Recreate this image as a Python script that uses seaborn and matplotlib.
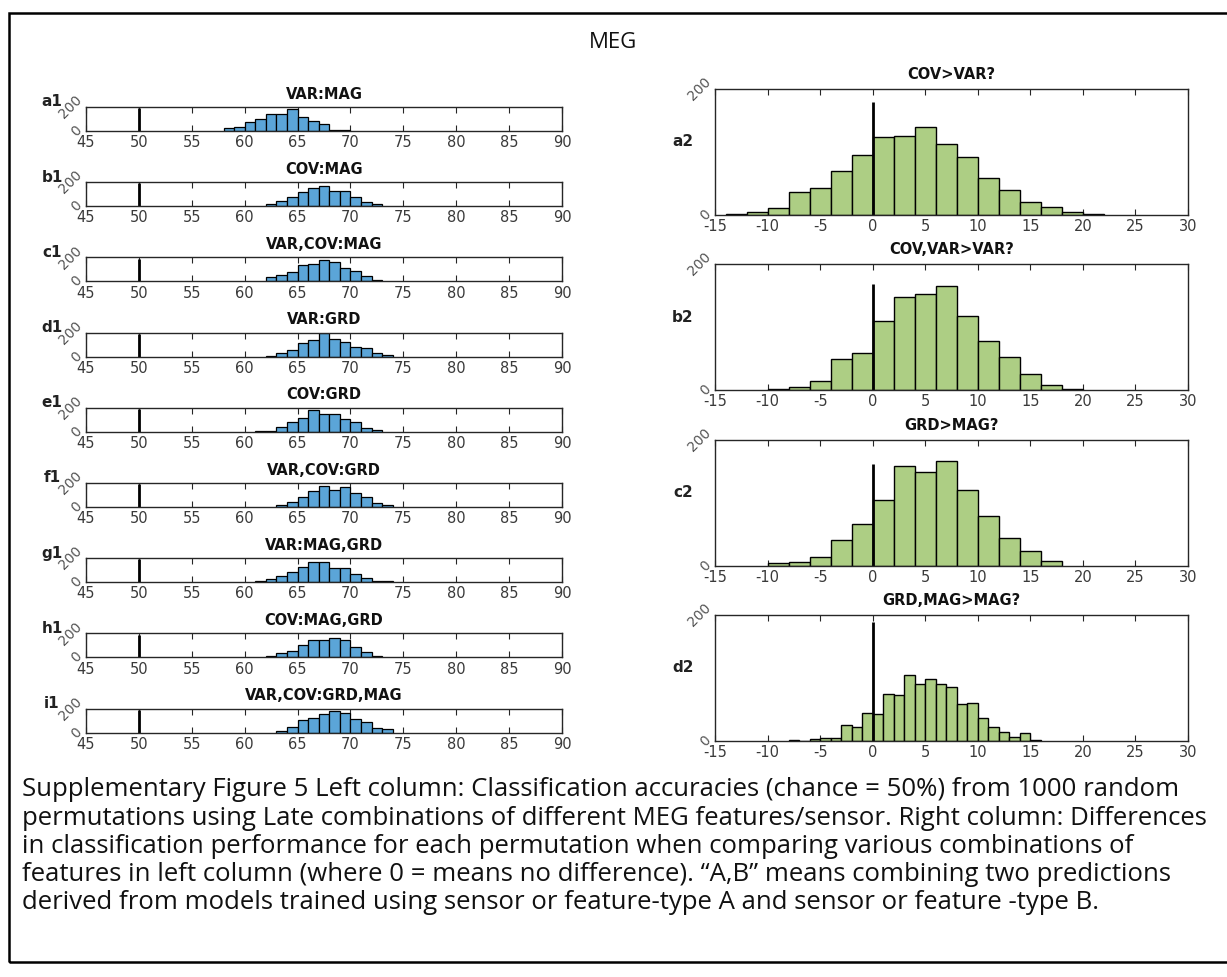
import numpy as np
import pandas as pd
import matplotlib
matplotlib.use("Agg")
import matplotlib.pyplot as plt
import seaborn as sns
from matplotlib.patches import Rectangle

# ---------------- data ----------------
left_titles = ["VAR:MAG", "COV:MAG", "VAR,COV:MAG", "VAR:GRD", "COV:GRD",
               "VAR,COV:GRD", "VAR:MAG,GRD", "COV:MAG,GRD", "VAR,COV:GRD,MAG"]
left_labels = ["a1", "b1", "c1", "d1", "e1", "f1", "g1", "h1", "i1"]
left_bin_start = [58, 62, 62, 62, 61, 63, 61, 62, 63]
a1_counts = [23, 34, 73, 96, 144, 141, 183, 118, 82, 59, 8, 8]
b1_counts = [17, 42, 76, 118, 149, 172, 127, 127, 73, 37, 20]
c1_counts = [37, 51, 79, 138, 141, 175, 158, 110, 85, 45, 14]
d1_counts = [8, 31, 56, 110, 138, 195, 150, 118, 82, 68, 34, 11]
e1_counts = [8, 8, 42, 82, 116, 180, 149, 149, 104, 82, 31, 11]
f1_counts = [14, 42, 87, 132, 175, 144, 163, 113, 87, 37, 14]
g1_counts = [8, 23, 51, 85, 127, 172, 172, 116, 116, 65, 34, 8, 8]
h1_counts = [8, 39, 56, 107, 144, 144, 163, 147, 85, 45, 8]
i1_counts = [11, 48, 101, 124, 152, 178, 163, 113, 85, 39, 31]
left_counts = [a1_counts, b1_counts, c1_counts, d1_counts, e1_counts,
               f1_counts, g1_counts, h1_counts, i1_counts]
left_chance = 50
left_line_top = [190, 190, 190, 190, 190, 190, 190, 190, 190]
left_xticks = [45, 50, 55, 60, 65, 70, 75, 80, 85, 90]

right_titles = ["COV>VAR?", "COV,VAR>VAR?", "GRD>MAG?", "GRD,MAG>MAG?"]
right_labels = ["a2", "b2", "c2", "d2"]
right_bin_start = [-14, -10, -10, -8]
right_bin_width = [2, 2, 2, 1]
a2_counts = [2, 4, 11, 37, 43, 70, 96, 124, 125, 140, 113, 92, 58, 39, 21, 13, 4, 2]
b2_counts = [2, 4, 14, 49, 59, 110, 147, 153, 165, 118, 78, 53, 25, 8, 2]
c2_counts = [4, 6, 14, 41, 67, 104, 159, 149, 167, 120, 79, 45, 24, 8]
d2_counts = [2, 0, 3, 5, 5, 26, 23, 44, 43, 75, 73, 105, 91, 98, 90, 86,
             59, 61, 37, 22, 14, 6, 12, 2]
right_counts = [a2_counts, b2_counts, c2_counts, d2_counts]
right_line_top = [180, 168, 162, 189]
right_xticks = [-15, -10, -5, 0, 5, 10, 15, 20, 25, 30]

caption_lines = [
    "Supplementary Figure 5 Left column: Classification accuracies (chance = 50%) from 1000 random",
    "permutations using Late combinations of different MEG features/sensor. Right column: Differences",
    "in classification performance for each permutation when comparing various combinations of",
    "features in left column (where 0 = means no difference). \u201cA,B\u201d means combining two predictions",
    "derived from models trained using sensor or feature-type A and sensor or feature -type B.",
]

# ---------------- style ----------------
sns.set_theme(style="white")
plt.rcParams["font.family"] = ["DejaVu Sans"]
plt.rcParams["axes.edgecolor"] = "#262626"
plt.rcParams["axes.linewidth"] = 1.0

W, H = 1227, 977
fig = plt.figure(figsize=(W / 100, H / 100), dpi=100)
fig.patch.set_facecolor("white")

BLUE = "#5BA5D8"
GREEN = "#ADCE84"
TICKC = "#3a3a3a"


def px_axes(x0, y0, w, h):
    return fig.add_axes([x0 / W, 1 - (y0 + h) / H, w / W, h / H])


def style_axes(ax, xlim, xticks, ylim=(0, 200)):
    ax.set_xlim(*xlim)
    ax.set_ylim(*ylim)
    ax.set_xticks(xticks)
    ax.set_yticks([0, 200])
    ax.set_xticklabels([str(t) for t in xticks], color=TICKC, fontsize=10.5)
    ax.set_yticklabels(["0", "200"], color="#555555", fontsize=10,
                       rotation=45, ha="right", va="center")
    ax.tick_params(axis="x", direction="in", length=4, width=0.8, top=True,
                   bottom=True, pad=3, colors="#262626", labelcolor=TICKC)
    ax.tick_params(axis="y", direction="in", length=0, pad=1, labelcolor="#555555")
    ax.set_xlabel("")
    ax.set_ylabel("")
    for s in ax.spines.values():
        s.set_visible(True)
        s.set_color("#262626")
        s.set_linewidth(1.0)


# left column
for i in range(9):
    top = 107 + 75.2 * i
    ax = px_axes(86, top, 476, 24)
    counts = [float(c) for c in left_counts[i]]
    start = left_bin_start[i]
    edges = [float(start + k) for k in range(len(counts) + 1)]
    centers = [e + 0.5 for e in edges[:-1]]
    df = pd.DataFrame({"x": centers, "w": counts})
    sns.histplot(data=df, x="x", weights="w", bins=edges, ax=ax,
                 color=BLUE, alpha=1.0, edgecolor="black", linewidth=0.9)
    ax.vlines(left_chance, 0, left_line_top[i], color="black", lw=2)
    style_axes(ax, (45, 90), left_xticks)
    ax.set_title(left_titles[i], fontsize=10.5, fontweight="bold", pad=6, color="#111111")
    fig.text(52 / W, 1 - 102 / H - 75.2 * i / H, left_labels[i], fontsize=11,
             fontweight="bold", ha="center", va="center", color="#222222")

# right column
right_tops = [89, 264, 440, 615]
for i in range(4):
    ax = px_axes(715, right_tops[i], 473, 126)
    counts = [float(c) for c in right_counts[i]]
    bw = right_bin_width[i]
    start = right_bin_start[i]
    edges = [float(start + bw * k) for k in range(len(counts) + 1)]
    centers = [e + bw / 2 for e in edges[:-1]]
    df = pd.DataFrame({"x": centers, "w": counts})
    sns.histplot(data=df, x="x", weights="w", bins=edges, ax=ax,
                 color=GREEN, alpha=1.0, edgecolor="black", linewidth=1.0)
    ax.vlines(0, 0, right_line_top[i], color="black", lw=2)
    style_axes(ax, (-15, 30), right_xticks)
    ax.set_title(right_titles[i], fontsize=10.5, fontweight="bold", pad=7, color="#111111")
    fig.text(683 / W, 1 - (right_tops[i] + 53) / H, right_labels[i], fontsize=11,
             fontweight="bold", ha="center", va="center", color="#222222")

# overall title
fig.text(613 / W, 1 - 42 / H, "MEG", fontsize=16, ha="center", va="center",
         family=["Open Sans", "DejaVu Sans"], color="#111111")

# caption
for k, line in enumerate(caption_lines):
    fig.text(22 / W, 1 - (790 + 28.2 * k) / H, line, fontsize=18.5,
             ha="left", va="center", family=["Open Sans", "DejaVu Sans"], color="#111111")

# outer frame
fig.add_artist(Rectangle((9 / W, 1 - 962 / H), 1.2, (962 - 13) / H,
                         transform=fig.transFigure, fill=False,
                         edgecolor="black", linewidth=1.8, clip_on=False))

fig.savefig("out.png", dpi=100, facecolor="white")
